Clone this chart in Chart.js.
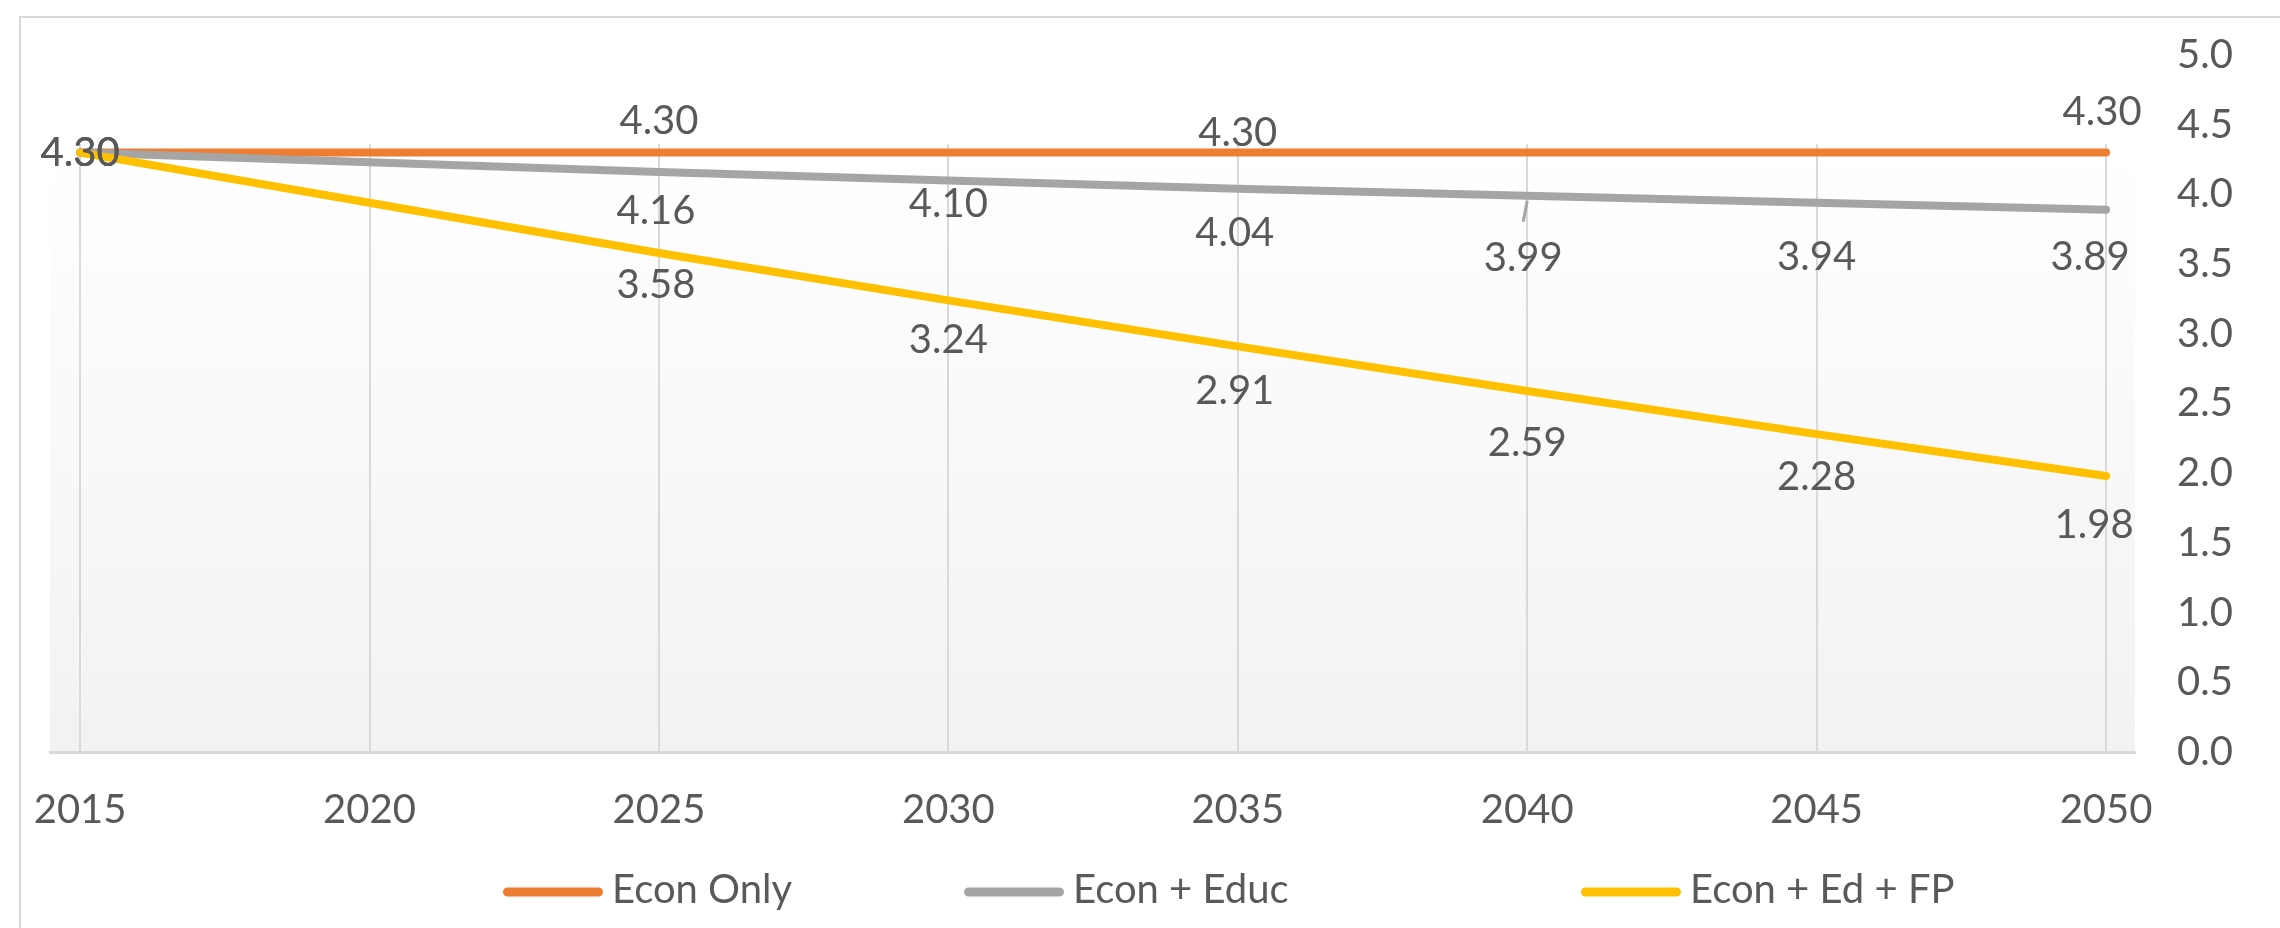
<!DOCTYPE html>
<html>
<head>
<meta charset="utf-8">
<script src="https://cdn.jsdelivr.net/npm/chart.js@4.4.1/dist/chart.umd.min.js"></script>
<style>
html,body{margin:0;padding:0;background:#fff;overflow:hidden;width:2280px;height:928px}
#wrap{position:absolute;left:0;top:0;width:2280px;height:928px}
</style>
</head>
<body>
<div id="wrap"><canvas id="c"></canvas></div>
<script>
// ---- data ----
const years = [2015, 2020, 2025, 2030, 2035, 2040, 2045, 2050];
const seriesNames = ['Econ Only', 'Econ + Educ', 'Econ + Ed + FP'];
const econOnly = [4.30, 4.30, 4.30, 4.30, 4.30, 4.30, 4.30, 4.30];
const econEduc = [4.30, 4.23, 4.16, 4.10, 4.04, 3.99, 3.94, 3.89];
const econEdFP = [4.30, 3.94, 3.58, 3.24, 2.91, 2.59, 2.28, 1.98];
const yTickValues = [0, 0.5, 1.0, 1.5, 2.0, 2.5, 3.0, 3.5, 4.0, 4.5, 5.0];

// ---- style ----
const FONT = "Lato, 'Open Sans', sans-serif";
const TEXT = '#595959';
const colors = ['#ED7D31', '#A5A5A5', '#FFC000'];

function pts(vals){ return vals.map((v, i) => ({x: years[i], y: v})); }

const framePlugin = {
  id: 'frame',
  beforeDraw(chart, args, o){
    const {ctx, chartArea: a, scales: {y}} = chart;
    ctx.save();
    ctx.fillStyle = '#fff';
    ctx.fillRect(0, 0, chart.width, chart.height);
    ctx.strokeStyle = o.borderColor; ctx.lineWidth = 2;
    ctx.strokeRect(o.frameLeft, o.frameTop, chart.width + 100, chart.height + 100);
    const top = y.getPixelForValue(o.plotTopValue);
    const g = ctx.createLinearGradient(0, top, 0, a.bottom);
    g.addColorStop(0, '#ffffff'); g.addColorStop(1, '#f2f2f2');
    ctx.fillStyle = g;
    ctx.fillRect(a.left, top, a.right - a.left, a.bottom - top);
    ctx.restore();
  },
  beforeDatasetsDraw(chart, args, o){
    const {ctx, chartArea: a, scales: {x, y}} = chart;
    const top = y.getPixelForValue(o.plotTopValue);
    ctx.save();
    ctx.strokeStyle = o.gridColor; ctx.lineWidth = 2;
    x.ticks.forEach(t => {
      const px = Math.round(x.getPixelForValue(t.value));
      ctx.beginPath(); ctx.moveTo(px, top); ctx.lineTo(px, a.bottom); ctx.stroke();
    });
    ctx.restore();
  }
};

const labelPlugin = {
  id: 'pointLabels',
  afterDatasetsDraw(chart, args, o){
    const ctx = chart.ctx;
    ctx.save();
    ctx.font = o.fontSize + 'px ' + FONT;
    ctx.textAlign = 'center'; ctx.textBaseline = 'middle';
    chart.data.datasets.forEach((ds, i) => {
      const meta = chart.getDatasetMeta(i);
      const cfg = o.series[i];
      Object.keys(cfg.offsets).forEach(k => {
        const j = +k;
        const p = meta.data[j];
        const [dx, dy] = cfg.offsets[k];
        if (cfg.leaders && cfg.leaders[j]) {
          ctx.strokeStyle = ds.borderColor; ctx.lineWidth = 3; ctx.lineCap = 'butt';
          ctx.beginPath(); ctx.moveTo(p.x, p.y + 5); ctx.lineTo(p.x - 4, p.y + 26); ctx.stroke();
        }
        ctx.fillStyle = TEXT;
        ctx.fillText(ds.data[j].y.toFixed(2), p.x + dx, p.y + dy);
      });
    });
    ctx.restore();
  }
};

const legendPlugin = {
  id: 'customLegend',
  afterDraw(chart, args, o){
    const ctx = chart.ctx;
    ctx.save();
    ctx.font = o.fontSize + 'px ' + FONT;
    ctx.textAlign = 'left'; ctx.textBaseline = 'middle';
    chart.data.datasets.forEach((ds, i) => {
      const x0 = o.starts[i];
      ctx.strokeStyle = ds.borderColor; ctx.lineWidth = o.lineWidth; ctx.lineCap = 'round';
      ctx.beginPath();
      ctx.moveTo(x0 + o.lineWidth / 2, o.lineY);
      ctx.lineTo(x0 + o.boxWidth - o.lineWidth / 2, o.lineY);
      ctx.stroke();
      ctx.fillStyle = TEXT;
      ctx.fillText(ds.label, x0 + o.boxWidth + o.gap, o.textY);
    });
    ctx.restore();
  }
};

const datasets = [econOnly, econEduc, econEdFP].map((vals, i) => ({
  label: seriesNames[i],
  data: pts(vals),
  borderColor: colors[i],
  backgroundColor: colors[i],
  borderWidth: 8,
  borderCapStyle: 'round',
  borderJoinStyle: 'round',
  pointRadius: 0,
  pointHoverRadius: 0,
  tension: 0,
  fill: false,
  order: 2 - i
}));

new Chart(document.getElementById('c'), {
  type: 'line',
  data: { datasets },
  plugins: [framePlugin, labelPlugin, legendPlugin],
  options: {
    responsive: true,
    maintainAspectRatio: false,
    animation: false,
    devicePixelRatio: 1,
    layout: { padding: { left: 50, right: 0, top: 55, bottom: 0 } },
    scales: {
      x: {
        type: 'linear',
        min: 2014.48, max: 2050.5,
        afterBuildTicks(s){ s.ticks = years.map(v => ({value: v})); },
        afterFit(s){ s.height = 176; },
        grid: { display: false, drawTicks: true, tickLength: 34 },
        border: { display: true, color: '#d9d9d9', width: 3 },
        ticks: {
          autoSkip: false, maxRotation: 0, padding: 0,
          color: TEXT, font: { family: FONT, size: 40 },
          callback: v => String(v)
        }
      },
      y: {
        position: 'right',
        min: 0, max: 5,
        afterBuildTicks(s){ s.ticks = yTickValues.map(v => ({value: v})); },
        afterFit(s){ s.width = 145; },
        grid: { display: false, drawTicks: true, tickLength: 42 },
        border: { display: false },
        ticks: {
          padding: 0, color: TEXT, font: { family: FONT, size: 40 },
          callback: v => Number(v).toFixed(1)
        }
      }
    },
    plugins: {
      legend: { display: false },
      tooltip: { enabled: false },
      frame: { borderColor: '#d9d9d9', gridColor: '#d9d9d9', frameLeft: 20, frameTop: 17, plotTopValue: 4.36 },
      pointLabels: {
        fontSize: 40,
        series: [
          { offsets: { 0: [0, 1], 2: [0, -31], 4: [0, -19], 7: [-4, -40] } },
          { offsets: { 0: [0, 1], 2: [-3, 39], 3: [0, 24], 4: [-3, 44], 5: [-4, 62], 6: [0, 54], 7: [-16, 47] }, leaders: { 5: true } },
          { offsets: { 0: [0, 1], 2: [-3, 32], 3: [0, 40], 4: [-3, 45], 5: [0, 52], 6: [0, 43], 7: [-12, 49] } }
        ]
      },
      customLegend: { fontSize: 40, starts: [503, 964, 1581], boxWidth: 100, gap: 9, lineWidth: 9, lineY: 892, textY: 890 }
    }
  }
});
</script>
</body>
</html>
